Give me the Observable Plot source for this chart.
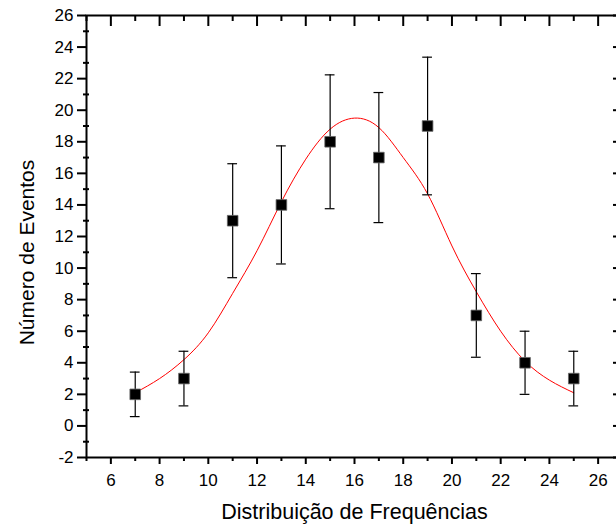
<!DOCTYPE html>
<html><head><meta charset="utf-8">
<script src="https://cdn.jsdelivr.net/npm/d3@7"></script>
<script src="https://cdn.jsdelivr.net/npm/@observablehq/plot@0.6"></script>
<style>
  html, body { margin: 0; padding: 0; background: #fff; }
  #chart { width: 616px; height: 529px; overflow: hidden; }
</style>
</head><body><div id="chart"></div>
<script>
// Data
const freq   = [7, 9, 11, 13, 15, 17, 19, 21, 23, 25];
const events = [2, 3, 13, 14, 18, 17, 19, 7, 4, 3];
const errors = [1.41, 1.73, 3.61, 3.74, 4.24, 4.12, 4.36, 2.65, 2.00, 1.73];

// Gaussian fit curve (red), read point by point
const fitX = [7, 8, 9, 10, 11, 12, 13, 14, 15, 16, 17, 18, 19, 20, 21, 22, 23, 24, 25];
const fitY = [2.1, 3.0, 4.2, 5.9, 8.4, 11.1, 14.2, 16.9, 18.8, 19.5, 18.9, 17.0, 14.7, 11.4, 8.5, 6.0, 4.1, 2.9, 2.1];

// Tick values
const xMajor = [6, 8, 10, 12, 14, 16, 18, 20, 22, 24, 26];
const xMinor = [5, 7, 9, 11, 13, 15, 17, 19, 21, 23, 25, 27];
const yMajor = [-2, 0, 2, 4, 6, 8, 10, 12, 14, 16, 18, 20, 22, 24, 26];
const yMinor = [-1, 1, 3, 5, 7, 9, 11, 13, 15, 17, 19, 21, 23, 25];

const xTitle = "Distribuição de Frequências";
const yTitle = "Número de Eventos";

const pts = freq.map((x, i) => ({x, y: events[i], e: errors[i]}));
const fit = fitX.map((x, i) => ({x, y: fitY[i]}));
const capHalf = 0.2;

const chart = Plot.plot({
  width: 616,
  height: 529,
  marginLeft: 86,
  marginRight: -6,
  marginTop: 15,
  marginBottom: 72,
  style: {fontFamily: "'Liberation Sans', Arial, sans-serif", color: "black", background: "white", overflow: "visible"},
  x: {domain: [5, 27]},
  y: {domain: [-2, 26]},
  marks: [
    // axes
    Plot.axisY(yMajor, {anchor: "left", tickSize: 9, tickPadding: 4, strokeWidth: 2, fontSize: 17, tickFormat: d => String(d), label: null}),
    Plot.axisY(yMinor, {anchor: "left", tickSize: 6, dx: 3, strokeWidth: 2, text: null, label: null}),
    Plot.axisY(yMajor, {anchor: "right", tickSize: 10, dx: -10, strokeWidth: 2, text: null, label: null}),
    Plot.axisY(yMinor, {anchor: "right", tickSize: 5, dx: -5, strokeWidth: 2, text: null, label: null}),
    Plot.axisX(xMajor, {anchor: "bottom", tickSize: 7, tickPadding: 9, strokeWidth: 2, fontSize: 17, tickFormat: d => String(d), label: null}),
    Plot.axisX(xMinor, {anchor: "bottom", tickSize: 4, strokeWidth: 2, text: null, label: null}),
    Plot.axisX(xMajor, {anchor: "top", tickSize: 10, dy: 10, strokeWidth: 2, text: null, label: null}),
    Plot.axisX(xMinor, {anchor: "top", tickSize: 5, dy: 5, strokeWidth: 2, text: null, label: null}),
    Plot.frame({stroke: "black", strokeWidth: 2}),
    // titles
    Plot.text([xTitle], {frameAnchor: "bottom", dy: 61, fontSize: 21.5, fill: "black"}),
    Plot.text([yTitle], {frameAnchor: "left", textAnchor: "middle", rotate: -90, dx: -59, dy: 16, fontSize: 21, fill: "black"}),
    // fit curve
    Plot.line(fit, {x: "x", y: "y", stroke: "#ff0000", strokeWidth: 1, curve: "natural"}),
    // error bars
    Plot.ruleX(pts, {x: "x", y1: d => d.y - d.e, y2: d => d.y + d.e, stroke: "black", strokeWidth: 1.2}),
    Plot.ruleY(pts, {y: d => d.y + d.e, x1: d => d.x - capHalf, x2: d => d.x + capHalf, stroke: "black", strokeWidth: 1.2}),
    Plot.ruleY(pts, {y: d => d.y - d.e, x1: d => d.x - capHalf, x2: d => d.x + capHalf, stroke: "black", strokeWidth: 1.2}),
    // points
    Plot.dot(pts, {x: "x", y: "y", symbol: "square", r: 6, fill: "black", stroke: "#666", strokeWidth: 0.8})
  ]
});
document.getElementById("chart").appendChild(chart);
</script>
</body></html>
